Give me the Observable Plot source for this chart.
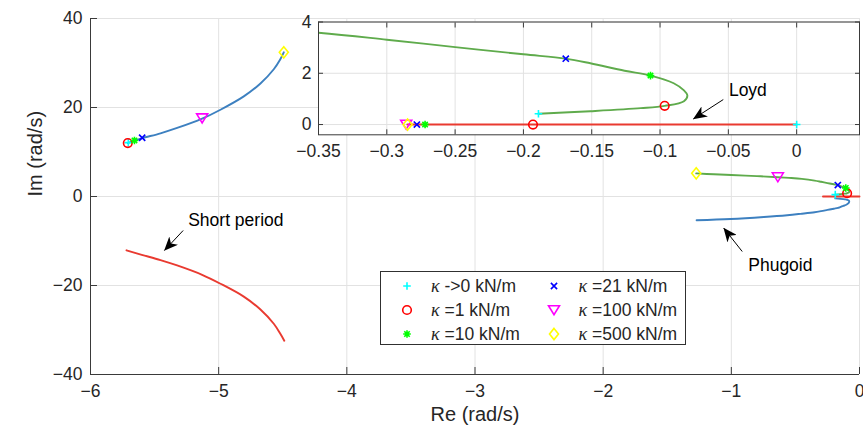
<!DOCTYPE html>
<html><head><meta charset="utf-8">
<script src="https://cdn.jsdelivr.net/npm/d3@7"></script>
<script src="https://cdn.jsdelivr.net/npm/@observablehq/plot@0.6"></script>
<style>
html,body{margin:0;padding:0;background:#fff;}
#wrap{position:relative;width:863px;height:439px;overflow:hidden;font-family:"Liberation Sans",Arial,Helvetica,sans-serif;color:#262626;}
.legend{position:absolute;left:380px;top:271px;width:306px;height:74px;box-sizing:border-box;border:1px solid #303030;background:#fff;}
.legend .item{position:absolute;font-size:17.5px;line-height:20px;white-space:nowrap;}
.legend svg{position:absolute;overflow:visible;}
.kap{font-family:"Liberation Serif","DejaVu Serif",serif;font-style:italic;font-size:18px;}
</style></head><body><div id="wrap"></div>
<script>
// ---------- data ----------
const mainXTicks = [-6, -5, -4, -3, -2, -1, 0];
const mainYTicks = [-40, -20, 0, 20, 40];
const insetXTicks = [-0.35, -0.3, -0.25, -0.2, -0.15, -0.1, -0.05, 0];
const insetYTicks = [0, 2, 4];

const kappaLabels = ["->0", "=1", "=10", "=21", "=100", "=500"];

// short period, upper branch
const spUpRe = [-5.709, -5.657, -5.597, -5.454, -5.324, -5.129, -4.986, -4.804, -4.674, -4.57, -4.52, -4.492];
const spUpIm = [12.0, 12.55, 13.1, 14.2, 15.4, 17.5, 19.5, 22.5, 25.4, 28.6, 30.8, 32.4];
// short period, lower branch
const spLowRe = [-5.719, -5.6, -5.454, -5.324, -5.129, -4.986, -4.804, -4.674, -4.57, -4.52, -4.488];
const spLowIm = [-12.1, -13.1, -14.3, -15.5, -17.6, -19.6, -22.5, -25.4, -28.6, -30.8, -32.4];
// phugoid, upper branch
const phUpRe = [-1.274, -1.136, -1.0, -0.8, -0.637, -0.55, -0.45, -0.35, -0.3, -0.25, -0.2, -0.169, -0.151, -0.126, -0.107, -0.09, -0.0825, -0.08, -0.0825, -0.0966, -0.114, -0.151, -0.189];
const phUpIm = [5.2, 4.99, 4.83, 4.58, 4.33, 4.18, 3.96, 3.58, 3.31, 3.02, 2.74, 2.57, 2.39, 2.10, 1.91, 1.61, 1.33, 1.13, 0.91, 0.73, 0.64, 0.52, 0.42];
// phugoid, lower branch
const phLowRe = [-1.271, -1.006, -0.746, -0.564, -0.46, -0.35, -0.3, -0.25, -0.2, -0.169, -0.151, -0.126, -0.107, -0.09, -0.0825, -0.08, -0.0825, -0.0966, -0.114, -0.151, -0.189];
const phLowIm = [-5.35, -5.06, -4.6, -4.2, -3.9, -3.55, -3.3, -3.02, -2.74, -2.57, -2.39, -2.10, -1.91, -1.61, -1.33, -1.13, -0.91, -0.73, -0.64, -0.52, -0.42];
// Loyd mode (real axis)
const loydRe = [-0.285, 0];
const loydIm = [0, 0];

// markers, one per kappa value (->0, 1, 10, 21, 100, 500 kN/m)
const spMarkRe = [-5.705, -5.709, -5.657, -5.597, -5.129, -4.492];
const spMarkIm = [12.1, 12.0, 12.6, 13.2, 17.6, 32.4];
const phMarkRe = [-0.189, -0.0966, -0.107, -0.169, -0.637, -1.274];
const phMarkIm = [0.42, 0.73, 1.91, 2.57, 4.36, 5.2];
const loydMarkRe = [0, -0.193, -0.272, -0.278, -0.2858, -0.2848];
const loydMarkIm = [0, 0, 0, 0, 0, 0];

// annotations (main axes)
const noteText = ["Short period", "Phugoid"];
const noteRe = [-5.238, -0.868];
const noteIm = [-5.39, -15.5];
const arrowFromRe = [-5.277, -0.915];
const arrowFromIm = [-7.64, -12.36];
const arrowToRe = [-5.423, -1.059];
const arrowToIm = [-12.13, -7.12];
// annotation (inset axes)
const loydNoteText = ["Loyd"];
const loydNoteRe = [-0.0496];
const loydNoteIm = [1.35];
const loydArrowFromRe = [-0.0537], loydArrowFromIm = [0.975];
const loydArrowToRe = [-0.0756], loydArrowToIm = [0.222];

// ---------- styles ----------
const FONT = '"Liberation Sans", Arial, Helvetica, sans-serif';
const INK = "#262626", AXIS = "#3a3a3a", GRID = "#e2e2e2";
const BLUE = "#3d80c0", GREEN = "#5fab4c", RED = "#e93a30";
const MCOLORS = ["#00ffff", "#ff0000", "#00ff00", "#0000ff", "#ff00ff", "#ffff00"];
const fmt = d3.format("~g");

const sym = {
  plus: {draw(c) { c.moveTo(-3.8, 0); c.lineTo(3.8, 0); c.moveTo(0, -3.8); c.lineTo(0, 3.8); }},
  circle: {draw(c) { c.moveTo(4.3, 0); c.arc(0, 0, 4.3, 0, 2 * Math.PI); }},
  asterisk: {draw(c) { const a = 3.8, b = 2.7; c.moveTo(-a, 0); c.lineTo(a, 0); c.moveTo(0, -a); c.lineTo(0, a); c.moveTo(-b, -b); c.lineTo(b, b); c.moveTo(-b, b); c.lineTo(b, -b); }},
  times: {draw(c) { const b = 3.1; c.moveTo(-b, -b); c.lineTo(b, b); c.moveTo(-b, b); c.lineTo(b, -b); }},
  triDown: {draw(c) { c.moveTo(-5.5, -4.3); c.lineTo(5.5, -4.3); c.lineTo(0, 4.7); c.closePath(); }},
  diamond: {draw(c) { c.moveTo(0, -5.6); c.lineTo(4.5, 0); c.lineTo(0, 5.6); c.lineTo(-4.5, 0); c.closePath(); }}
};
const SYMBOLS = [sym.plus, sym.circle, sym.asterisk, sym.times, sym.triDown, sym.diamond];

const pts = (re, im) => re.map((r, i) => ({re: r, im: im[i]}));
const markerMarks = (re, im, extra = {}) => kappaLabels.map((_, i) =>
  Plot.dot([{re: re[i], im: im[i]}], {x: "re", y: "im", symbol: SYMBOLS[i], stroke: MCOLORS[i], fill: "none", strokeWidth: 1.6, ...extra}));
const lineMark = (re, im, color, extra = {}) =>
  Plot.line(pts(re, im), {x: "re", y: "im", stroke: color, strokeWidth: 1.9, curve: "catmull-rom", ...extra});

function addArrowheads(svg, id) {
  const s = d3.select(svg);
  s.append("defs").append("marker")
    .attr("id", id).attr("viewBox", "0 0 14 12").attr("refX", 13.5).attr("refY", 6)
    .attr("markerWidth", 14).attr("markerHeight", 12).attr("markerUnits", "userSpaceOnUse").attr("orient", "auto")
    .append("path").attr("d", "M0,0L14,6L0,12L4,6Z").attr("fill", "#000");
  s.selectAll('g[aria-label="link"] path').attr("marker-end", `url(#${id})`);
}

const baseStyle = {fontFamily: FONT, fontSize: "17.5px", color: INK, background: "transparent", overflow: "visible"};

// ---------- main axes ----------
const main = Plot.plot({
  width: 863, height: 439,
  marginLeft: 90, marginRight: 4, marginTop: 18, marginBottom: 65,
  x: {domain: [mainXTicks[0], mainXTicks[mainXTicks.length - 1]]},
  y: {domain: [mainYTicks[0], mainYTicks[mainYTicks.length - 1]]},
  style: baseStyle,
  marks: [
    Plot.gridX(mainXTicks, {stroke: GRID, strokeOpacity: 1}),
    Plot.gridY(mainYTicks, {stroke: GRID, strokeOpacity: 1}),
    lineMark(spUpRe, spUpIm, BLUE),
    lineMark(spLowRe, spLowIm, RED),
    lineMark(phUpRe, phUpIm, GREEN),
    lineMark(phLowRe, phLowIm, BLUE),
    Plot.line(pts(loydRe, loydIm), {x: "re", y: "im", stroke: RED, strokeWidth: 1.9}),
    ...markerMarks(spMarkRe, spMarkIm),
    ...markerMarks(phMarkRe, phMarkIm),
    Plot.ruleX([mainXTicks[0]], {stroke: AXIS}),
    Plot.ruleY([mainYTicks[0]], {stroke: AXIS}),
    Plot.axisX(mainXTicks, {anchor: "bottom", tickSize: -7, tickPadding: 17, tickFormat: fmt, label: null, stroke: AXIS, fill: INK}),
    Plot.axisY(mainYTicks, {anchor: "left", tickSize: -7, tickPadding: 15, tickFormat: fmt, label: null, stroke: AXIS, fill: INK}),
    Plot.text(["Re (rad/s)"], {frameAnchor: "bottom", dy: 46, fontSize: 20, fill: INK}),
    Plot.text(["Im (rad/s)"], {frameAnchor: "left", dx: -55, rotate: -90, fontSize: 20, fill: INK}),
    Plot.text(noteText, {x: (d, i) => noteRe[i], y: (d, i) => noteIm[i], text: d => d, textAnchor: "start", fill: "#000", fontSize: 17.5}),
    Plot.link(noteText, {x1: (d, i) => arrowFromRe[i], y1: (d, i) => arrowFromIm[i], x2: (d, i) => arrowToRe[i], y2: (d, i) => arrowToIm[i], stroke: "#000", strokeWidth: 1})
  ]
});
main.style.position = "absolute"; main.style.left = "0px"; main.style.top = "0px";
addArrowheads(main, "ahMain");
document.getElementById("wrap").appendChild(main);

// ---------- inset axes ----------
const inset = Plot.plot({
  width: 863, height: 439,
  marginLeft: 318, marginRight: 4, marginTop: 21.5, marginBottom: 304.7,
  x: {domain: [insetXTicks[0], 0.046]},
  y: {domain: [-0.4, insetYTicks[insetYTicks.length - 1]]},
  style: baseStyle,
  marks: [
    Plot.frame({fill: "white", stroke: null}),
    Plot.gridX(insetXTicks, {stroke: GRID, strokeOpacity: 1}),
    Plot.gridY(insetYTicks, {stroke: GRID, strokeOpacity: 1}),
    Plot.line(pts(loydRe, loydIm), {x: "re", y: "im", stroke: RED, strokeWidth: 1.9, clip: true}),
    lineMark(phUpRe, phUpIm, GREEN, {clip: true}),
    ...markerMarks(loydMarkRe, loydMarkIm, {clip: true}),
    ...markerMarks(phMarkRe, phMarkIm, {clip: true}),
    Plot.frame({stroke: AXIS, strokeWidth: 1}),
    Plot.axisX(insetXTicks, {anchor: "bottom", tickSize: -5, tickPadding: 15, tickFormat: fmt, label: null, stroke: AXIS, fill: INK}),
    Plot.axisX(insetXTicks, {anchor: "top", tickSize: -5, tickFormat: () => "", label: null, stroke: AXIS}),
    Plot.axisY(insetYTicks, {anchor: "left", tickSize: -5, tickPadding: 12, tickFormat: fmt, label: null, stroke: AXIS, fill: INK}),
    Plot.axisY(insetYTicks, {anchor: "right", tickSize: -5, tickFormat: () => "", label: null, stroke: AXIS}),
    Plot.text(loydNoteText, {x: (d, i) => loydNoteRe[i], y: (d, i) => loydNoteIm[i], text: d => d, textAnchor: "start", fill: "#000", fontSize: 17.5}),
    Plot.link(loydNoteText, {x1: (d, i) => loydArrowFromRe[i], y1: (d, i) => loydArrowFromIm[i], x2: (d, i) => loydArrowToRe[i], y2: (d, i) => loydArrowToIm[i], stroke: "#000", strokeWidth: 1})
  ]
});
inset.style.position = "absolute"; inset.style.left = "0px"; inset.style.top = "0px";
addArrowheads(inset, "ahInset");
document.getElementById("wrap").appendChild(inset);

// ---------- legend ----------
const legend = d3.select("#wrap").append("div").attr("class", "legend");
kappaLabels.forEach((lab, i) => {
  const col = Math.floor(i / 3), row = i % 3;
  const cy = 13.5 + row * 24;
  const mx = 26 + col * 146.5;
  const tx = 50 + col * 147.5;
  const p = d3.path(); SYMBOLS[i].draw(p, 0);
  const s = legend.append("svg").attr("width", 14).attr("height", 14)
    .style("left", (mx - 7) + "px").style("top", (cy - 7) + "px");
  s.append("path").attr("transform", "translate(7,7)").attr("d", p.toString())
    .attr("fill", "none").attr("stroke", MCOLORS[i]).attr("stroke-width", 1.6);
  const it = legend.append("div").attr("class", "item")
    .style("left", tx + "px").style("top", (cy - 10) + "px");
  it.append("span").attr("class", "kap").text("κ");
  it.append("span").text(" " + lab + " kN/m");
});
</script></body></html>
